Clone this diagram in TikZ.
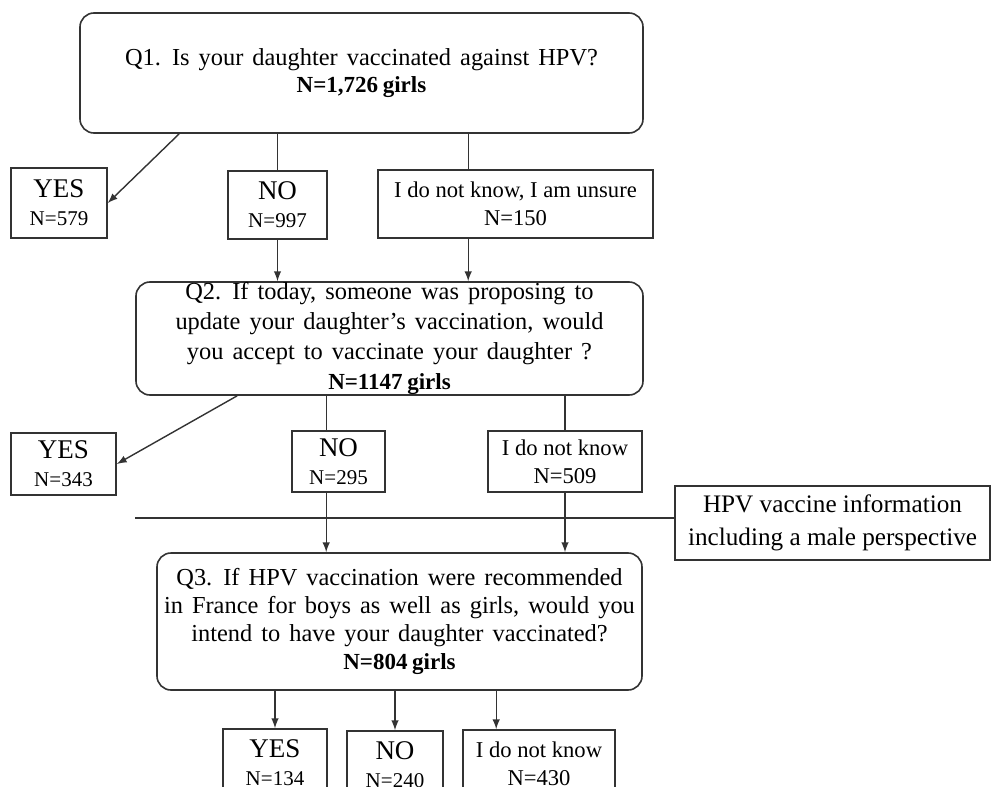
\documentclass[tikz,border=0pt]{standalone}
\usepackage{fontspec}
\setmainfont{Liberation Serif}
\usepackage{tikz}
\usetikzlibrary{calc}
\usetikzlibrary{arrows}
\usetikzlibrary{arrows.meta}
\tikzset{>=latex}
\tikzstyle{qbox} = [rectangle, rounded corners=7pt, draw=black!80, line width=0.8pt, align=center, inner sep=0pt]
\tikzstyle{abox} = [rectangle, draw=black!80, line width=0.8pt, align=center, inner sep=0pt]
\tikzstyle{link} = [-, draw=black!80, line width=0.7pt]
\tikzstyle{arr} = [-latex, draw=black!80, line width=0.7pt]
\newcommand{\bigans}[1]{{\fontsize{13.5}{14}\selectfont #1}}
\newcommand{\qtext}[1]{\fontsize{12.2}{#1}\selectfont\spaceskip=0.37em plus 0.1em\relax}
\newcommand{\nline}[1]{{\fontsize{11.5}{13}\selectfont\bfseries\spaceskip=0.2em\relax #1}}

\begin{document}
\begin{tikzpicture}[x=0.5pt, y=-0.5pt]
\clip (0,0) rectangle (992,787);
% questions
\node [qbox, minimum width=281.5pt, minimum height=60pt, font=\qtext{13.5pt}] (Q1) at (361.5, 73) {Q1. Is your daughter vaccinated against HPV?\\ \nline{N=1,726 girls}};
\node [qbox, minimum width=253.5pt, minimum height=56.5pt, font=\qtext{15pt}] (Q2) at (389.5, 338.5) {Q2. If today, someone was proposing to\\ update your daughter's vaccination, would\\ you accept to vaccinate your daughter ?\\ \nline{N=1147 girls}};
\node [qbox, minimum width=242.5pt, minimum height=68.5pt, font=\qtext{14pt}] (Q3) at (399.5, 621.5) {Q3. If HPV vaccination were recommended\\ in France for boys as well as girls, would you\\ intend to have your daughter vaccinated?\\ \nline{N=804 girls}};
% answers to Q1
\node [abox, minimum width=48pt, minimum height=35pt, font=\fontsize{10.5}{14}\selectfont] (Y1) at (59, 203) {\bigans{YES}\\ N=579};
\node [abox, minimum width=49.5pt, minimum height=34pt, font=\fontsize{10.5}{14}\selectfont] (N1) at (277.5, 205) {\bigans{NO}\\ N=997};
\node [abox, minimum width=137.5pt, minimum height=34pt, font=\fontsize{11.3}{14}\selectfont] (U1) at (515.5, 204) {I do not know, I am unsure\\ N=150};
% answers to Q2
\node [abox, minimum width=52.5pt, minimum height=31pt, font=\fontsize{10.5}{14}\selectfont] (Y2) at (63.5, 464) {\bigans{YES}\\ N=343};
\node [abox, minimum width=46.5pt, minimum height=30.5pt, font=\fontsize{10.5}{14}\selectfont] (N2) at (338.5, 461.5) {\bigans{NO}\\ N=295};
\node [abox, minimum width=77pt, minimum height=30.5pt, font=\fontsize{11.3}{14}\selectfont] (U2) at (565, 461.5) {I do not know\\ N=509};
% information
\node [abox, minimum width=157.5pt, minimum height=37pt, font=\fontsize{12.6}{16.5}\selectfont] (H) at (832.5, 523) {HPV vaccine information\\ including a male perspective};
% answers to Q3
\node [abox, minimum width=52pt, minimum height=34pt, font=\fontsize{10.5}{14}\selectfont] (Y3) at (275, 763) {\bigans{YES}\\ N=134};
\node [abox, minimum width=48pt, minimum height=34pt, font=\fontsize{10.5}{14}\selectfont] (N3) at (395, 765) {\bigans{NO}\\ N=240};
\node [abox, minimum width=76pt, minimum height=34pt, font=\fontsize{11.3}{14}\selectfont] (U3) at (539, 764) {I do not know\\ N=430};
% branch points
\coordinate (t1) at ([xshift=45.5pt]U1.north west);
\coordinate (t2) at ([xshift=17.5pt]N2.north west);
\coordinate (t3) at ([xshift=17pt]U3.north west);
\coordinate (cut) at (135, 518);
% Q1
\draw [arr] ([xshift=50pt]Q1.south west) to (Y1.east);
\draw [link] (Q1.south -| N1.north) to (N1.north);
\draw [link] (Q1.south -| t1) to (t1);
\draw [arr] (N1.south) to (N1.south |- Q2.north);
\draw [arr] (t1 |- U1.south) to (t1 |- Q2.north);
% Q2
\draw [arr] ([xshift=51pt]Q2.south west) to (Y2.east);
\draw [link] (Q2.south -| t2) to (t2);
\draw [link] (Q2.south -| U2.north) to (U2.north);
\draw [link] (cut) to (cut -| H.west);
\draw [arr] (t2 |- N2.south) to (t2 |- Q3.north);
\draw [arr] (U2.south) to (U2.south |- Q3.north);
% Q3
\draw [arr] (Q3.south -| Y3.north) to (Y3.north);
\draw [arr] (Q3.south -| N3.north) to (N3.north);
\draw [arr] (Q3.south -| t3) to (t3);
\end{tikzpicture}
\end{document}
